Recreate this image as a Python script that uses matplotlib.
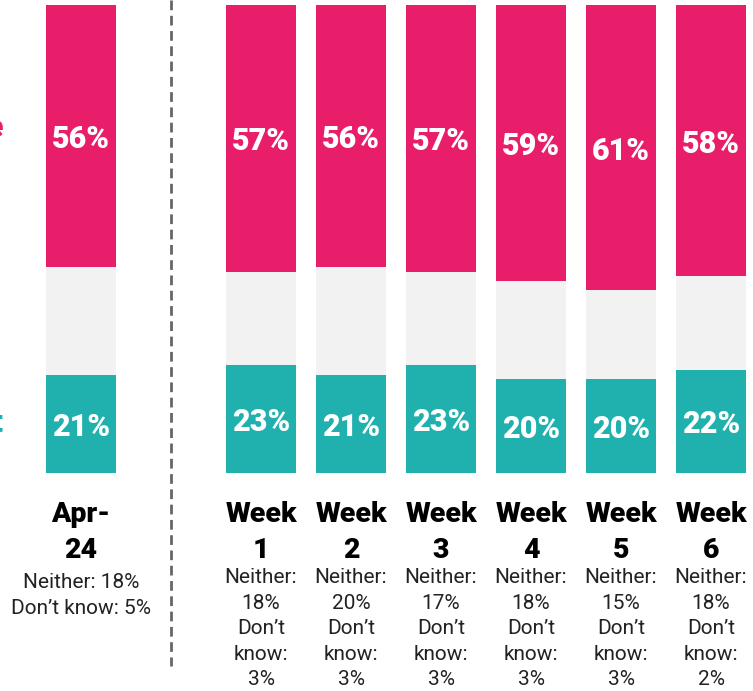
import matplotlib
matplotlib.use("Agg")
import matplotlib.pyplot as plt
import numpy as np

# survey results, share of respondents (%)
periods = ["Apr-\n24", "Week\n1", "Week\n2", "Week\n3", "Week\n4", "Week\n5", "Week\n6"]
support = [21, 23, 21, 23, 20, 20, 22]
oppose = [56, 57, 56, 57, 59, 61, 58]
neither = [18, 18, 20, 17, 18, 15, 18]
dont_know = [5, 3, 3, 3, 3, 3, 2]
notes = ["Neither: 18%\nDon\u2019t know: 5%",
         "Neither:\n18%\nDon\u2019t\nknow:\n3%",
         "Neither:\n20%\nDon\u2019t\nknow:\n3%",
         "Neither:\n17%\nDon\u2019t\nknow:\n3%",
         "Neither:\n18%\nDon\u2019t\nknow:\n3%",
         "Neither:\n15%\nDon\u2019t\nknow:\n3%",
         "Neither:\n18%\nDon\u2019t\nknow:\n2%"]

PINK = "#E81E6B"
TEAL = "#20B0AD"
GREY = "#F2F2F2"

plt.rcParams['font.family'] = ['Roboto', 'DejaVu Sans']

support = np.array(support)
oppose = np.array(oppose)
middle = 100 - support - oppose

# first bar stands apart from the weekly ones
xpos = np.array([0] + [i + 2 for i in range(len(periods) - 1)])

fig = plt.figure(figsize=(7.53, 6.91), dpi=100)
ax = fig.add_axes([0, 0, 1, 1])
ax.set_xlim(-0.90, 7.466)
ax.set_ylim(-46.6, 101.07)
ax.axis('off')

w = 0.78
ax.bar(xpos, support, width=w, color=TEAL)
ax.bar(xpos, middle, width=w, bottom=support, color=GREY)
ax.bar(xpos, oppose, width=w, bottom=support + middle, color=PINK)

for x, s, m, o in zip(xpos, support, middle, oppose):
    ax.text(x, s / 2 - 0.6, f"{s}%", ha='center', va='center', color='white',
            fontsize=22, fontweight='heavy')
    ax.text(x, s + m + o / 2 - 0.6, f"{o}%", ha='center', va='center', color='white',
            fontsize=22, fontweight='heavy')

for i, (x, lab, note) in enumerate(zip(xpos, periods, notes)):
    ax.text(x, -5.9, lab, ha='center', va='top', fontsize=20.5, fontweight='heavy',
            linespacing=1.45, color='black')
    ax.text(x, -20.4 - (1.0 if i == 0 else 0), note, ha='center', va='top',
            fontsize=15, linespacing=1.43, color='#222222')

# divider between the baseline month and the weekly tracking
ax.plot([1, 1], [101.07, -41.2], color='#666666', lw=2, ls=(0, (3.5, 2)))

# row labels sit mostly outside the cropped frame
ax.text(-0.865, 71.8, "Oppose", ha='right', va='baseline', color=PINK,
        fontsize=22, fontweight='heavy')
ax.text(-0.865, 8.8, "Support", ha='right', va='baseline', color=TEAL,
        fontsize=22, fontweight='heavy')

fig.savefig("out.png", dpi=100)
